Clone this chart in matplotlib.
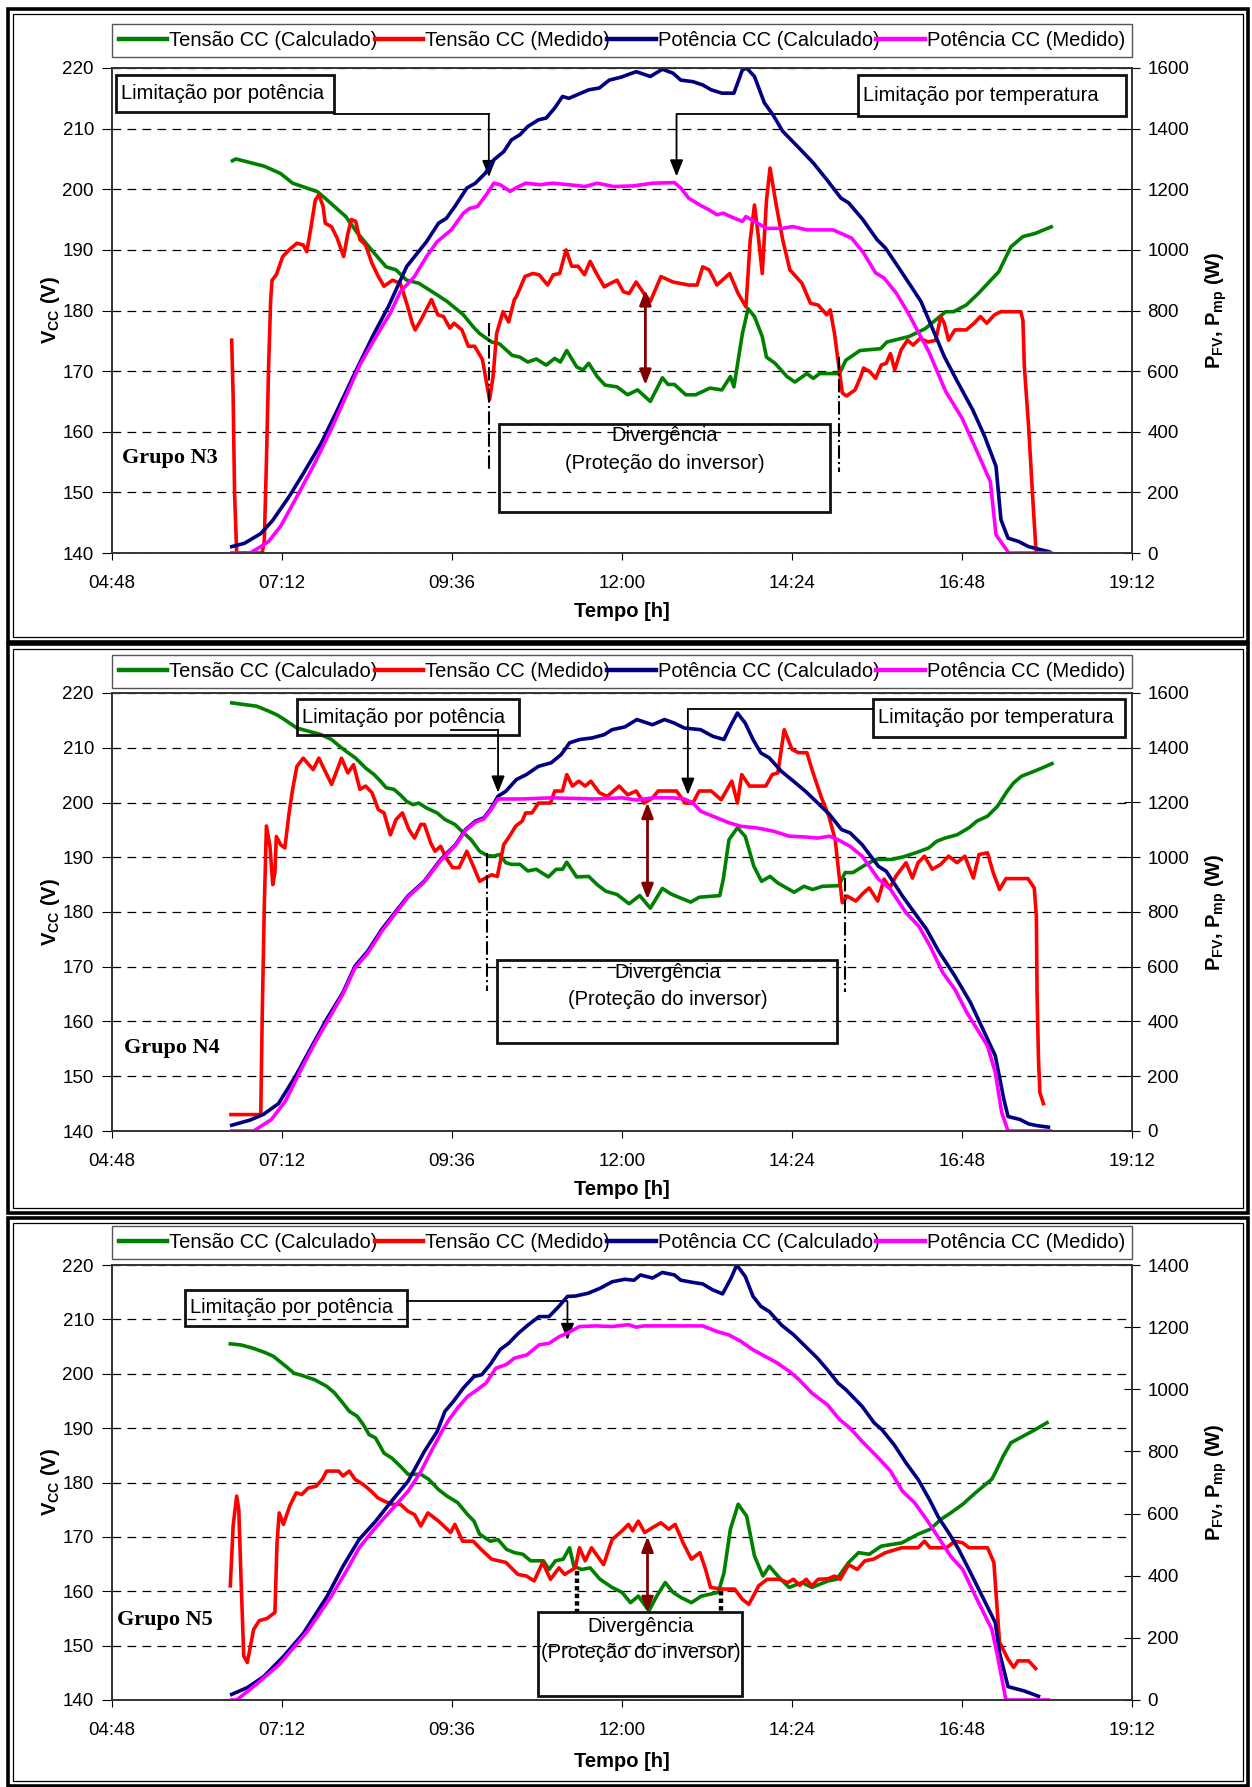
import matplotlib
matplotlib.use("Agg")
from matplotlib import pyplot as plt
from matplotlib.patches import Rectangle

plt.rcParams["font.family"] = ["Liberation Sans", "DejaVu Sans"]
plt.rcParams["mathtext.fontset"] = "custom"
plt.rcParams["mathtext.rm"] = "Liberation Sans"
plt.rcParams["mathtext.bf"] = "Liberation Sans:bold"

# (hora decimal, valor) -- tensoes em V, potencias em W
n3_vcalc = [(6.50, 204.7), (6.55, 205.0), (6.95, 203.8), (7.18, 202.6), (7.35, 201.0), (7.70, 199.6),
            (7.81, 198.5), (8.10, 195.5), (8.27, 192.7), (8.50, 189.5), (8.67, 187.2), (8.81, 186.7),
            (8.96, 185.0), (9.13, 184.5), (9.36, 182.8), (9.53, 181.5), (9.76, 179.3), (9.90, 177.3),
            (9.99, 176.2), (10.16, 174.8), (10.27, 174.5), (10.45, 172.6), (10.56, 172.3), (10.67, 171.5),
            (10.79, 172.0), (10.93, 171.0), (11.05, 172.1), (11.13, 171.5), (11.22, 173.4), (11.36, 170.7),
            (11.45, 170.2), (11.53, 171.3), (11.65, 169.1), (11.76, 167.7), (11.93, 167.4), (12.08, 166.1),
            (12.22, 166.9), (12.40, 165.0), (12.57, 168.9), (12.65, 167.8), (12.74, 167.8), (12.90, 166.1),
            (13.04, 166.1), (13.24, 167.2), (13.41, 166.9), (13.53, 169.1), (13.58, 167.4), (13.70, 176.2),
            (13.78, 180.3), (13.87, 179.0), (13.98, 175.7), (14.04, 172.3), (14.16, 171.3), (14.33, 169.1),
            (14.44, 168.2), (14.61, 169.6), (14.70, 168.8), (14.79, 169.6), (15.07, 169.6), (15.16, 171.8),
            (15.36, 173.4), (15.65, 173.7), (15.74, 174.8), (16.05, 175.7), (16.28, 177.0), (16.57, 179.8),
            (16.68, 179.8), (16.86, 180.9), (17.03, 182.8), (17.32, 186.4), (17.49, 190.5), (17.66, 192.2),
            (17.83, 192.7), (18.06, 193.8)]
n3_vmed = [(6.49, 175.1), (6.51, 166.0), (6.53, 150.0), (6.56, 140.0), (6.92, 140.0), (6.95, 142.0),
           (6.98, 155.0), (7.01, 170.3), (7.04, 181.8), (7.06, 185.0), (7.12, 185.9), (7.21, 188.9),
           (7.30, 190.0), (7.41, 191.1), (7.50, 190.8), (7.55, 189.7), (7.61, 193.8), (7.67, 198.2),
           (7.72, 199.1), (7.78, 197.2), (7.81, 194.4), (7.90, 193.8), (7.98, 191.9), (8.07, 188.9),
           (8.13, 192.7), (8.18, 195.0), (8.24, 194.7), (8.30, 191.7), (8.38, 190.8), (8.47, 187.8),
           (8.56, 185.6), (8.64, 184.0), (8.76, 185.0), (8.87, 184.5), (8.96, 181.2), (9.04, 177.9),
           (9.08, 176.8), (9.16, 178.4), (9.31, 181.8), (9.40, 179.3), (9.48, 179.0), (9.57, 177.1),
           (9.63, 177.9), (9.74, 176.8), (9.83, 174.1), (9.92, 174.1), (10.03, 171.9), (10.09, 168.0),
           (10.13, 165.3), (10.18, 169.1), (10.23, 176.2), (10.32, 179.8), (10.40, 178.1), (10.48, 181.8),
           (10.51, 182.3), (10.63, 185.6), (10.74, 186.1), (10.83, 185.9), (10.95, 184.2), (11.03, 185.9),
           (11.12, 186.1), (11.21, 190.0), (11.29, 187.3), (11.38, 187.3), (11.47, 185.9), (11.55, 188.1),
           (11.64, 186.1), (11.75, 183.9), (11.84, 184.5), (11.93, 185.0), (12.02, 183.1), (12.10, 182.8),
           (12.20, 184.7), (12.31, 182.8), (12.40, 181.5), (12.55, 185.6), (12.72, 184.7), (12.94, 184.2),
           (13.06, 184.2), (13.14, 187.2), (13.23, 186.7), (13.34, 184.2), (13.52, 186.1), (13.64, 182.8),
           (13.75, 180.6), (13.81, 191.6), (13.87, 197.4), (13.92, 192.7), (13.98, 186.1), (14.04, 198.2),
           (14.09, 203.5), (14.18, 197.2), (14.27, 191.6), (14.37, 186.7), (14.54, 184.5), (14.66, 181.2),
           (14.77, 180.9), (14.89, 179.3), (14.94, 180.1), (15.00, 176.2), (15.06, 170.8), (15.11, 166.4),
           (15.17, 165.9), (15.29, 166.9), (15.37, 169.1), (15.41, 170.5), (15.50, 169.9), (15.58, 168.8),
           (15.66, 171.0), (15.73, 171.3), (15.79, 172.9), (15.85, 170.2), (15.94, 173.5), (16.03, 175.1),
           (16.11, 174.3), (16.21, 175.4), (16.32, 174.8), (16.43, 175.1), (16.50, 179.0), (16.55, 177.9),
           (16.61, 175.1), (16.70, 176.8), (16.86, 176.8), (16.97, 177.9), (17.06, 179.0), (17.15, 177.9),
           (17.26, 179.3), (17.35, 179.8), (17.63, 179.8), (17.66, 178.4), (17.68, 170.8), (17.74, 160.9),
           (17.80, 148.8), (17.84, 141.2), (17.85, 140.0)]
n3_pcalc = [(6.49, 21), (6.67, 32), (6.90, 64), (7.07, 108), (7.30, 186), (7.50, 262), (7.75, 361),
            (7.98, 471), (8.27, 614), (8.50, 724), (8.70, 812), (8.96, 945), (9.24, 1027), (9.41, 1088),
            (9.52, 1104), (9.64, 1143), (9.81, 1204), (9.93, 1220), (10.07, 1253), (10.19, 1297),
            (10.33, 1324), (10.44, 1363), (10.56, 1380), (10.67, 1407), (10.82, 1429), (10.93, 1435),
            (11.05, 1468), (11.16, 1506), (11.25, 1500), (11.42, 1517), (11.53, 1528), (11.68, 1534),
            (11.82, 1560), (11.99, 1570), (12.20, 1588), (12.40, 1572), (12.57, 1596), (12.72, 1583),
            (12.83, 1560), (13.00, 1555), (13.14, 1544), (13.26, 1528), (13.41, 1517), (13.58, 1517),
            (13.70, 1594), (13.76, 1600), (13.87, 1572), (14.01, 1485), (14.13, 1446), (14.27, 1391),
            (14.50, 1336), (14.70, 1287), (14.89, 1232), (15.09, 1171), (15.20, 1155), (15.40, 1100),
            (15.60, 1034), (15.72, 1006), (15.91, 940), (16.08, 880), (16.22, 830), (16.37, 748),
            (16.55, 648), (16.72, 572), (16.95, 473), (17.12, 385), (17.28, 286), (17.35, 110),
            (17.45, 49), (17.60, 38), (17.74, 21), (18.03, 4)]
n3_pmed = [(6.49, 0), (6.75, 0), (6.90, 21), (7.01, 38), (7.18, 88), (7.41, 186), (7.64, 286),
           (7.87, 396), (8.04, 484), (8.30, 621), (8.53, 715), (8.73, 792), (8.87, 862), (9.07, 912),
           (9.24, 978), (9.39, 1027), (9.59, 1066), (9.76, 1121), (9.85, 1137), (9.96, 1143),
           (10.10, 1187), (10.19, 1220), (10.28, 1215), (10.42, 1193), (10.50, 1204), (10.64, 1220),
           (10.84, 1215), (11.02, 1220), (11.25, 1215), (11.48, 1209), (11.65, 1220), (11.88, 1209),
           (12.16, 1211), (12.43, 1220), (12.74, 1222), (12.83, 1204), (12.94, 1171), (13.09, 1149),
           (13.23, 1132), (13.34, 1116), (13.43, 1121), (13.58, 1105), (13.70, 1094), (13.75, 1110),
           (13.87, 1094), (14.04, 1071), (14.27, 1071), (14.41, 1077), (14.61, 1066), (14.98, 1066),
           (15.24, 1039), (15.41, 990), (15.58, 924), (15.70, 907), (15.87, 858), (16.04, 792),
           (16.15, 743), (16.33, 665), (16.57, 533), (16.80, 445), (16.97, 357), (17.20, 236),
           (17.28, 60), (17.46, 0), (18.06, 0)]

n4_vcalc = [(6.49, 218.2), (6.66, 217.9), (6.84, 217.6), (7.01, 216.7), (7.13, 216.0), (7.24, 215.1),
            (7.41, 213.6), (7.58, 213.0), (7.75, 212.4), (7.90, 211.5), (8.01, 210.3), (8.10, 209.4),
            (8.24, 208.1), (8.38, 206.3), (8.50, 205.1), (8.59, 203.9), (8.67, 202.7), (8.78, 202.4),
            (8.87, 201.4), (8.96, 200.2), (9.05, 199.6), (9.13, 199.9), (9.24, 199.0), (9.39, 198.1),
            (9.50, 196.9), (9.64, 196.0), (9.76, 194.5), (9.87, 193.2), (9.99, 191.1), (10.10, 190.3),
            (10.19, 190.2), (10.27, 190.5), (10.36, 189.0), (10.44, 188.7), (10.56, 188.7), (10.67, 187.5),
            (10.79, 187.8), (10.96, 186.4), (11.07, 187.8), (11.16, 187.8), (11.22, 189.1), (11.36, 186.4),
            (11.53, 186.5), (11.65, 185.0), (11.77, 183.8), (11.93, 183.2), (12.10, 181.5), (12.25, 183.0),
            (12.40, 180.7), (12.57, 184.3), (12.69, 183.3), (12.80, 182.7), (12.97, 181.8), (13.09, 182.7),
            (13.38, 183.0), (13.43, 186.0), (13.51, 193.2), (13.63, 195.4), (13.74, 193.8), (13.86, 188.4),
            (13.97, 185.6), (14.09, 186.5), (14.20, 185.3), (14.43, 183.6), (14.57, 184.7), (14.69, 184.1),
            (14.83, 184.7), (15.06, 184.8), (15.15, 187.2), (15.26, 187.2), (15.41, 188.4), (15.58, 189.6),
            (15.81, 189.6), (15.98, 190.1), (16.21, 191.1), (16.33, 191.7), (16.44, 192.9), (16.56, 193.5),
            (16.73, 194.1), (16.90, 195.4), (17.01, 196.6), (17.16, 197.5), (17.30, 199.3), (17.44, 202.1),
            (17.53, 203.6), (17.64, 204.8), (17.76, 205.4), (17.93, 206.3), (18.07, 207.1)]
n4_vmed = [(6.48, 143.0), (6.90, 143.0), (6.92, 160.4), (6.95, 181.0), (6.98, 195.7), (7.03, 192.0),
           (7.07, 185.0), (7.10, 187.2), (7.12, 193.8), (7.18, 192.3), (7.24, 191.7), (7.30, 198.1),
           (7.35, 202.4), (7.41, 206.6), (7.50, 208.1), (7.58, 206.9), (7.64, 206.0), (7.72, 208.1),
           (7.81, 205.7), (7.90, 203.3), (7.98, 206.0), (8.04, 208.1), (8.13, 205.4), (8.21, 206.9),
           (8.30, 202.4), (8.38, 203.0), (8.47, 201.8), (8.56, 198.7), (8.64, 198.1), (8.73, 194.1),
           (8.81, 196.9), (8.90, 198.1), (8.99, 195.1), (9.07, 193.5), (9.16, 196.0), (9.21, 196.0),
           (9.30, 192.6), (9.36, 191.1), (9.44, 192.0), (9.53, 189.6), (9.61, 188.1), (9.70, 188.1),
           (9.81, 191.1), (9.90, 188.4), (9.99, 185.6), (10.07, 186.2), (10.16, 186.8), (10.24, 186.5),
           (10.33, 192.3), (10.41, 193.8), (10.50, 195.7), (10.59, 196.6), (10.64, 198.1), (10.73, 198.1),
           (10.82, 199.9), (10.99, 199.9), (11.05, 202.1), (11.16, 202.1), (11.22, 205.1), (11.30, 203.0),
           (11.39, 203.9), (11.48, 203.0), (11.56, 203.9), (11.68, 201.8), (11.79, 201.1), (11.96, 203.0),
           (12.08, 201.4), (12.20, 202.1), (12.31, 199.9), (12.43, 200.8), (12.51, 202.1), (12.77, 202.1),
           (12.89, 199.9), (13.00, 199.9), (13.09, 202.1), (13.26, 202.1), (13.40, 200.5), (13.55, 203.9),
           (13.63, 199.9), (13.69, 205.1), (13.80, 203.0), (14.03, 203.0), (14.12, 205.1), (14.20, 205.4),
           (14.29, 213.3), (14.40, 209.7), (14.49, 209.1), (14.61, 209.1), (14.69, 205.7), (14.81, 201.1),
           (14.92, 197.5), (15.01, 193.2), (15.06, 187.2), (15.11, 181.7), (15.18, 182.9), (15.30, 182.0),
           (15.41, 183.5), (15.49, 184.4), (15.61, 182.0), (15.70, 186.0), (15.78, 184.4), (15.87, 186.6),
           (16.01, 189.0), (16.10, 186.2), (16.18, 189.0), (16.27, 190.2), (16.38, 187.8), (16.50, 188.7),
           (16.61, 190.2), (16.73, 189.0), (16.84, 190.2), (16.96, 186.2), (17.04, 190.5), (17.16, 190.8),
           (17.24, 187.2), (17.33, 184.1), (17.42, 186.1), (17.73, 186.1), (17.82, 184.4), (17.85, 179.2),
           (17.86, 165.0), (17.88, 153.0), (17.90, 147.0), (17.95, 145.0)]
n4_pcalc = [(6.49, 21), (6.75, 40), (6.94, 61), (7.15, 100), (7.39, 200), (7.60, 300), (7.83, 408),
            (8.06, 506), (8.23, 602), (8.41, 657), (8.61, 737), (8.81, 803), (8.98, 859), (9.21, 913),
            (9.44, 992), (9.65, 1046), (9.79, 1101), (9.93, 1132), (10.05, 1144), (10.14, 1174),
            (10.25, 1223), (10.36, 1241), (10.51, 1284), (10.65, 1302), (10.82, 1332), (11.00, 1345),
            (11.14, 1375), (11.26, 1418), (11.40, 1430), (11.58, 1436), (11.75, 1448), (11.86, 1466),
            (12.04, 1476), (12.21, 1503), (12.28, 1497), (12.43, 1484), (12.60, 1503), (12.74, 1490),
            (12.88, 1472), (13.11, 1466), (13.28, 1442), (13.44, 1430), (13.54, 1484), (13.63, 1527),
            (13.74, 1490), (13.85, 1430), (13.96, 1381), (14.08, 1363), (14.25, 1314), (14.42, 1278),
            (14.59, 1241), (14.76, 1199), (14.93, 1156), (15.10, 1101), (15.22, 1089), (15.39, 1046),
            (15.62, 967), (15.73, 949), (15.96, 858), (16.13, 797), (16.30, 737), (16.47, 657),
            (16.70, 566), (16.92, 469), (17.27, 275), (17.39, 117), (17.45, 53), (17.62, 42),
            (17.74, 26), (17.85, 20), (18.02, 14)]
n4_pmed = [(6.49, 0), (6.80, 0), (7.05, 42), (7.25, 110), (7.45, 215), (7.65, 315), (7.85, 405),
           (8.06, 500), (8.23, 595), (8.41, 650), (8.61, 730), (8.81, 798), (8.98, 855), (9.21, 910),
           (9.44, 988), (9.65, 1043), (9.79, 1098), (9.93, 1128), (10.05, 1140), (10.14, 1170),
           (10.25, 1213), (10.60, 1213), (11.00, 1217), (11.60, 1213), (12.00, 1217), (12.21, 1209),
           (12.43, 1217), (12.72, 1217), (12.88, 1213), (13.00, 1199), (13.11, 1168), (13.34, 1144),
           (13.51, 1126), (13.68, 1113), (13.91, 1107), (14.14, 1095), (14.36, 1077), (14.59, 1074),
           (14.76, 1070), (14.93, 1077), (15.05, 1064), (15.22, 1040), (15.39, 1004), (15.62, 920),
           (15.79, 883), (16.01, 797), (16.19, 748), (16.35, 675), (16.53, 578), (16.70, 517),
           (16.87, 432), (17.16, 311), (17.27, 214), (17.36, 68), (17.45, 0), (18.05, 0)]

n5_vcalc = [(6.47, 205.5), (6.62, 205.3), (6.79, 204.7), (6.96, 203.9), (7.08, 203.2), (7.26, 201.3),
            (7.37, 200.1), (7.48, 199.7), (7.66, 198.9), (7.83, 197.7), (7.94, 196.5), (8.06, 194.6),
            (8.15, 193.1), (8.26, 192.2), (8.35, 190.6), (8.43, 188.8), (8.52, 188.2), (8.64, 185.4),
            (8.75, 184.5), (8.87, 183.0), (8.98, 181.5), (9.16, 181.5), (9.27, 180.6), (9.41, 178.7),
            (9.53, 177.5), (9.68, 176.3), (9.82, 174.1), (9.91, 172.9), (9.99, 170.5), (10.14, 169.2),
            (10.25, 169.5), (10.37, 167.7), (10.48, 167.1), (10.60, 166.8), (10.71, 165.6), (10.89, 165.6),
            (10.97, 164.0), (11.06, 165.6), (11.17, 165.9), (11.26, 168.0), (11.32, 164.6), (11.43, 164.0),
            (11.55, 164.3), (11.69, 162.2), (11.86, 160.7), (12.00, 159.8), (12.12, 157.9), (12.23, 159.1),
            (12.38, 156.4), (12.49, 159.1), (12.61, 161.6), (12.72, 159.8), (12.84, 158.8), (12.98, 157.9),
            (13.12, 159.1), (13.36, 159.8), (13.44, 163.4), (13.53, 171.4), (13.64, 176.0), (13.76, 173.8),
            (13.87, 166.5), (13.99, 162.8), (14.08, 164.6), (14.22, 162.5), (14.36, 160.7), (14.54, 161.6),
            (14.68, 160.7), (14.91, 161.9), (15.03, 162.2), (15.20, 165.3), (15.34, 167.1), (15.49, 166.8),
            (15.66, 168.3), (15.95, 168.9), (16.18, 170.5), (16.35, 171.4), (16.50, 173.2), (16.64, 174.4),
            (16.81, 176.0), (16.99, 178.1), (17.22, 180.6), (17.27, 181.8), (17.38, 184.8), (17.49, 187.3),
            (17.66, 188.5), (17.83, 189.7), (18.00, 191.0)]
n5_vmed = [(6.47, 161.0), (6.51, 172.0), (6.56, 177.5), (6.59, 175.0), (6.62, 162.8), (6.66, 148.1),
           (6.71, 146.9), (6.80, 153.0), (6.88, 154.6), (6.99, 155.0), (7.10, 156.1), (7.13, 168.9),
           (7.16, 174.4), (7.22, 172.3), (7.31, 175.7), (7.40, 178.1), (7.48, 177.8), (7.57, 179.0),
           (7.68, 179.3), (7.77, 180.6), (7.83, 182.1), (8.00, 182.1), (8.06, 181.2), (8.15, 182.1),
           (8.23, 180.6), (8.35, 179.6), (8.46, 178.4), (8.55, 177.2), (8.64, 176.6), (8.75, 176.0),
           (8.87, 176.0), (8.98, 174.7), (9.07, 174.1), (9.16, 172.0), (9.26, 174.4), (9.41, 172.9),
           (9.58, 170.8), (9.64, 172.3), (9.75, 169.2), (9.90, 169.2), (10.01, 167.7), (10.16, 165.9),
           (10.36, 165.3), (10.53, 163.1), (10.65, 162.8), (10.76, 161.9), (10.88, 165.3), (10.99, 162.2),
           (11.11, 164.3), (11.19, 163.1), (11.34, 164.3), (11.40, 168.0), (11.48, 165.6), (11.57, 168.0),
           (11.74, 164.9), (11.86, 169.5), (12.00, 171.1), (12.09, 172.3), (12.15, 171.1), (12.23, 172.9),
           (12.32, 170.8), (12.43, 171.7), (12.55, 172.6), (12.66, 171.4), (12.75, 172.3), (12.87, 168.7),
           (12.98, 165.9), (13.10, 167.1), (13.18, 164.0), (13.25, 160.7), (13.41, 160.4), (13.59, 160.4),
           (13.70, 158.5), (13.79, 157.6), (13.87, 159.5), (13.93, 161.0), (14.05, 162.2), (14.22, 162.2),
           (14.34, 161.6), (14.42, 162.2), (14.51, 161.1), (14.60, 162.2), (14.68, 161.0), (14.77, 162.2),
           (14.91, 162.3), (15.00, 162.8), (15.08, 162.2), (15.20, 164.9), (15.32, 164.0), (15.43, 165.6),
           (15.55, 165.9), (15.72, 167.1), (15.95, 168.0), (16.18, 168.0), (16.27, 169.2), (16.35, 168.0),
           (16.58, 168.0), (16.70, 169.2), (16.81, 168.9), (16.90, 168.0), (17.16, 168.0), (17.25, 165.3),
           (17.30, 156.1), (17.33, 150.6), (17.45, 147.5), (17.53, 146.0), (17.59, 147.2), (17.74, 147.2),
           (17.84, 145.8)]
n5_pcalc = [(6.49, 18), (6.71, 40), (6.94, 75), (7.22, 140), (7.50, 214), (7.84, 335), (8.06, 430),
            (8.29, 517), (8.52, 575), (8.75, 641), (8.98, 704), (9.21, 800), (9.39, 864), (9.50, 929),
            (9.62, 961), (9.76, 1004), (9.91, 1041), (10.02, 1047), (10.14, 1080), (10.28, 1128),
            (10.40, 1148), (10.54, 1181), (10.68, 1208), (10.83, 1234), (10.97, 1234), (11.11, 1267),
            (11.23, 1299), (11.34, 1300), (11.52, 1309), (11.69, 1325), (11.86, 1346), (12.04, 1354),
            (12.17, 1351), (12.26, 1368), (12.43, 1358), (12.57, 1376), (12.74, 1368), (12.83, 1351),
            (13.00, 1344), (13.14, 1339), (13.28, 1320), (13.42, 1307), (13.54, 1358), (13.62, 1400),
            (13.74, 1363), (13.85, 1299), (13.96, 1267), (14.08, 1250), (14.25, 1207), (14.42, 1176),
            (14.59, 1138), (14.76, 1100), (14.90, 1063), (15.05, 1020), (15.16, 999), (15.39, 945),
            (15.56, 892), (15.67, 870), (15.84, 822), (16.01, 763), (16.18, 710), (16.35, 641),
            (16.47, 587), (16.61, 539), (16.75, 486), (16.92, 410), (17.27, 249), (17.33, 152),
            (17.45, 43), (17.68, 29), (17.88, 12)]
n5_pmed = [(6.49, 0), (6.56, 0), (6.83, 49), (7.16, 114), (7.56, 221), (7.90, 335), (8.12, 420),
           (8.29, 490), (8.52, 555), (8.75, 613), (8.98, 672), (9.15, 731), (9.32, 806), (9.47, 870),
           (9.56, 903), (9.68, 940), (9.82, 977), (9.96, 999), (10.08, 1020), (10.22, 1068),
           (10.37, 1080), (10.48, 1100), (10.66, 1111), (10.83, 1143), (10.97, 1148), (11.11, 1169),
           (11.23, 1181), (11.40, 1202), (11.63, 1204), (11.86, 1202), (12.09, 1208), (12.20, 1200),
           (12.31, 1204), (13.14, 1204), (13.34, 1186), (13.51, 1175), (13.68, 1154), (13.85, 1127),
           (14.02, 1106), (14.19, 1085), (14.36, 1058), (14.50, 1031), (14.68, 988), (14.90, 950),
           (15.07, 903), (15.22, 875), (15.39, 832), (15.62, 779), (15.79, 737), (15.96, 672),
           (16.13, 635), (16.30, 581), (16.47, 522), (16.64, 463), (16.81, 420), (16.99, 334),
           (17.22, 228), (17.30, 144), (17.42, 0), (18.02, 0)]

hour_ticks = [4.8, 7.2, 9.6, 12.0, 14.4, 16.8, 19.2]
hour_labels = ["04:48", "07:12", "09:36", "12:00", "14:24", "16:48", "19:12"]
vcc_ticks = [140, 150, 160, 170, 180, 190, 200, 210, 220]
names = ["Tensão CC (Calculado)", "Tensão CC (Medido)", "Potência CC (Calculado)", "Potência CC (Medido)"]
colors = ["#008000", "#ff0000", "#000080", "#ff00ff"]

W, H = 1252, 1787
fig = plt.figure(figsize=(W / 100, H / 100), dpi=100)


def frame(top, bottom):
    for off, lw in [(0, 2.6), (5, 0.9)]:
        x0, x1 = 8 + off, 1248 - off
        y0, y1 = top + off, bottom - off
        fig.add_artist(Rectangle((x0 / W, 1 - y1 / H), (x1 - x0) / W, (y1 - y0) / H,
                                 transform=fig.transFigure, fill=False, lw=lw, ec="black"))


def panel(top, bottom, pmax, data, gap, xlab_y, group, group_xy):
    left, right = 112, 1132
    ax = fig.add_axes([left / W, 1 - bottom / H, (right - left) / W, (bottom - top) / H])
    ax2 = ax.twinx()
    handles = []
    for target, pts, c, name in zip([ax, ax, ax2, ax2], data, colors, names):
        t = [p[0] for p in pts]
        v = [p[1] for p in pts]
        h, = target.plot(t, v, color=c, lw=2.6, label=name)
        handles.append(h)
    ax.set_xlim(4.8, 19.2)
    ax.set_ylim(140, 220)
    ax2.set_ylim(0, pmax)
    ax.set_xticks(hour_ticks)
    ax.set_xticklabels(hour_labels)
    ax.set_yticks(vcc_ticks)
    ax2.set_yticks(range(0, pmax + 1, 200))
    ax.set_axisbelow(True)
    ax.grid(True, axis="y", color="black", lw=0.9, linestyle=(0, (7, 5)))
    ax.tick_params(axis="x", direction="out", length=5, labelsize=13.5, pad=11)
    ax.tick_params(axis="y", direction="out", length=7, labelsize=13.5, pad=6)
    ax2.tick_params(axis="y", direction="inout", length=12, labelsize=13.5, pad=5)
    for a in (ax, ax2):
        for s in a.spines.values():
            s.set_color("#333333")
            s.set_linewidth(1.2)
    ax.set_xlabel("Tempo [h]", fontsize=14.5, fontweight="bold")
    ax.xaxis.set_label_coords(0.5, xlab_y)
    ax.xaxis.label.set_va("center")
    ax.set_ylabel(r"$\mathbf{V_{CC}}$ (V)", fontsize=14.5, fontweight="bold")
    ax.yaxis.set_label_coords(-0.06, 0.5)
    ax.yaxis.label.set_va("center")
    ax2.set_ylabel(r"$\mathbf{P_{FV}}$, $\mathbf{P_{mp}}$ (W)", fontsize=14.5, fontweight="bold")
    ax2.yaxis.set_label_coords(1.083, 0.5)
    ax2.yaxis.label.set_va("center")
    leg = ax2.legend(handles, names, loc="lower left", bbox_to_anchor=(0, 1 + gap, 1, 0.05),
                     mode="expand", ncol=4, fontsize=14.5, handlelength=2.4, handletextpad=0.1,
                     columnspacing=0.2, borderpad=0.35, borderaxespad=0, fancybox=False,
                     framealpha=1, edgecolor="#555555")
    leg.get_frame().set_linewidth(1.0)
    for ln in leg.get_lines():
        ln.set_linewidth(3.2)
    ax.text(group_xy[0], group_xy[1], group, fontsize=16, fontweight="bold",
            family=["Liberation Serif", "DejaVu Serif"], ha="left", va="center")
    return ax


def note(ax, x0, x1, y0, y1, text=None, tx=None, ty=None):
    ax.add_patch(Rectangle((x0, y0), x1 - x0, y1 - y0, fill=False, ec="#111111", lw=2.0, zorder=6))
    if text:
        ax.text(tx, ty, text, fontsize=14.5, ha="left", va="center", zorder=7)


def pointer(ax, pts, tip):
    xs = [p[0] for p in pts]
    ys = [p[1] for p in pts]
    ax.plot(xs, ys, color="black", lw=1.3, zorder=6)
    ax.annotate("", xy=tip, xytext=pts[-1],
                arrowprops=dict(arrowstyle="-|>,head_width=0.4,head_length=1.0", color="black",
                                lw=1.3, shrinkA=0, shrinkB=0), zorder=7)


def diverge(ax, x, ya, yb):
    ax.annotate("", xy=(x, ya), xytext=(x, yb),
                arrowprops=dict(arrowstyle="<|-|>,head_width=0.35,head_length=0.9", color="#800000",
                                lw=2.0, shrinkA=0, shrinkB=0), zorder=7)


def div_text(ax, x, y1, y2):
    ax.text(x, y1, "Divergência", fontsize=14.5, ha="center", va="center", zorder=7)
    ax.text(x, y2, "(Proteção do inversor)", fontsize=14.5, ha="center", va="center", zorder=7)


# painel N3
frame(9, 642)
ax = panel(68, 553, 1600, [n3_vcalc, n3_vmed, n3_pcalc, n3_pmed], 0.0227, -0.121, "Grupo N3", (4.94, 155.7))
note(ax, 4.85, 7.93, 212.7, 218.9, "Limitação por potência", 4.92, 215.8)
pointer(ax, [(7.93, 212.4), (10.12, 212.4)], (10.12, 202.0))
note(ax, 15.33, 19.12, 212.1, 218.9, "Limitação por temperatura", 15.40, 215.5)
pointer(ax, [(15.33, 212.4), (12.77, 212.4)], (12.77, 202.1))
ax.plot([10.12, 10.12], [178.0, 153.4], color="black", lw=1.5, linestyle="-.")
ax.plot([15.07, 15.07], [172.3, 153.4], color="black", lw=1.5, linestyle="-.")
note(ax, 10.26, 14.94, 146.8, 161.3)
div_text(ax, 12.6, 159.3, 154.7)
diverge(ax, 12.33, 183.4, 167.7)

# painel N4
frame(644, 1213)
ax = panel(693, 1131, 1600, [n4_vcalc, n4_vmed, n4_pcalc, n4_pmed], 0.012, -0.134, "Grupo N4", (4.97, 155.1))
note(ax, 7.41, 10.55, 212.3, 218.9, "Limitação por potência", 7.48, 215.6)
pointer(ax, [(9.59, 213.3), (10.25, 213.3)], (10.25, 201.8))
note(ax, 15.54, 19.10, 212.0, 218.9, "Limitação por temperatura", 15.61, 215.5)
pointer(ax, [(15.54, 217.0), (12.93, 217.0)], (12.93, 201.4))
ax.plot([10.09, 10.09], [190.8, 165.5], color="black", lw=1.5, linestyle="-.")
ax.plot([15.15, 15.15], [186.2, 165.3], color="black", lw=1.5, linestyle="-.")
note(ax, 10.23, 15.03, 156.1, 171.3)
div_text(ax, 12.64, 168.9, 164.0)
diverge(ax, 12.36, 200.0, 182.3)

# painel N5
frame(1218, 1786)
ax = panel(1265, 1700, 1400, [n5_vcalc, n5_vmed, n5_pcalc, n5_pmed], 0.0138, -0.141, "Grupo N5", (4.87, 154.7))
note(ax, 5.83, 8.97, 208.8, 215.4, "Limitação por potência", 5.90, 212.1)
pointer(ax, [(8.97, 213.3), (11.23, 213.3)], (11.23, 206.2))
ax.plot([11.37, 11.37], [163.7, 156.1], color="black", lw=3.2, linestyle=(0, (1.0, 0.7)))
ax.plot([13.40, 13.40], [160.0, 156.1], color="black", lw=3.2, linestyle=(0, (1.0, 0.7)))
note(ax, 10.82, 13.70, 140.7, 156.2)
div_text(ax, 12.26, 153.6, 148.8)
diverge(ax, 12.36, 170.1, 156.1)

fig.savefig("out.png", dpi=100)
